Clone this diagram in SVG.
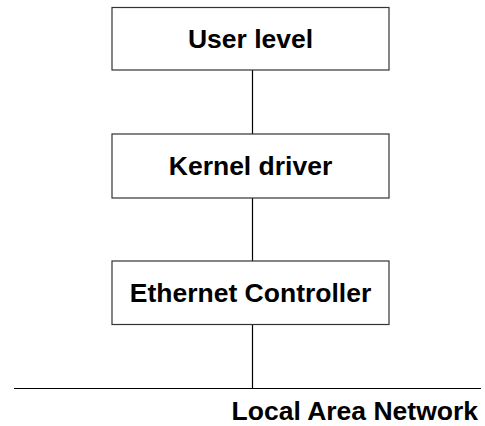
<svg xmlns="http://www.w3.org/2000/svg" width="485" height="426" viewBox="0 0 485 426">
<style>
.box{fill:#fff;stroke:#333;stroke-width:1.2}
.lbl{font-family:"Liberation Sans",Arial,sans-serif;font-weight:bold;font-size:26.5px;fill:#000;text-anchor:middle}
.conn{stroke:#000;stroke-width:1.2;fill:none}
</style>
<rect width="485" height="426" fill="#fff"/>
<g id="connectors">
<line class="conn" x1="252.5" y1="70" x2="252.5" y2="134"/>
<line class="conn" x1="252.5" y1="198" x2="252.5" y2="261"/>
<line class="conn" x1="252.5" y1="324" x2="252.5" y2="388.5"/>
<line class="conn" x1="14" y1="388.5" x2="481" y2="388.5"/>
</g>
<g id="user-level">
<rect class="box" x="112" y="7.5" width="277" height="62.5"/>
<text class="lbl" x="250.5" y="47.5">User level</text>
</g>
<g id="kernel-driver">
<rect class="box" x="112" y="134" width="277" height="64"/>
<text class="lbl" x="250.5" y="175">Kernel driver</text>
</g>
<g id="ethernet-controller">
<rect class="box" x="112" y="261" width="277" height="63.5"/>
<text class="lbl" x="250.5" y="301.5">Ethernet Controller</text>
</g>
<g id="lan">
<text class="lbl" x="478" y="420" style="text-anchor:end">Local Area Network</text>
</g>
</svg>
